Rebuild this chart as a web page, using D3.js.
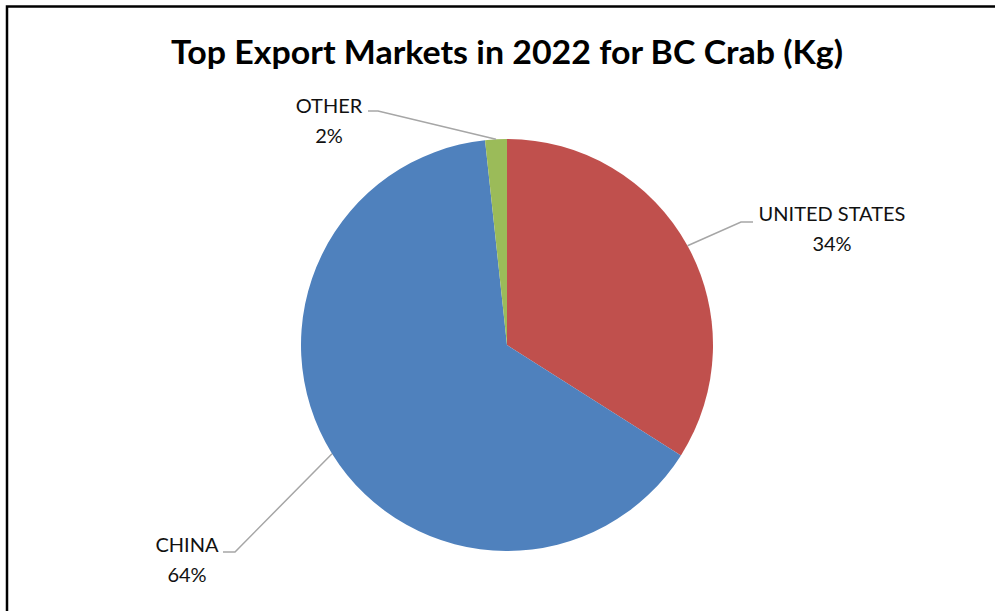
<html>
<head>
<meta charset='UTF-8'>
<script src="https://d3js.org/d3.v7.min.js"></script>
<style>
  body { margin: 0; background: white; }
  .title { font-family: Lato, "Open Sans", sans-serif; font-weight: bold; font-size: 33px; fill: black; }
  .lbl { font-family: Lato, "Open Sans", sans-serif; font-size: 20px; fill: #111; }
  .leader { stroke: #a6a6a6; stroke-width: 1.5px; fill: none; }
</style>
</head>
<body>
<svg id="chart" width="995" height="611"></svg>
<script>
// data
const markets = ['UNITED STATES', 'CHINA', 'OTHER'];
const shares = [34.0, 64.3, 1.7];
const colors = ['#c0504d', '#4f81bd', '#9bbb59'];

// label layout: elbow point and text anchor, relative to pie centre
const labelLayout = {
  'UNITED STATES': { elbow: [234, -123], end: [246, -123], text: [325, -124] },
  'CHINA': { elbow: [-272, 207], end: [-284, 207], text: [-320, 207] },
  'OTHER': { elbow: [-129, -234], end: [-139, -234], text: [-178, -232] }
};

const svg = d3.select('#chart');
const cx = 507, cy = 345, radius = 206;

// frame
svg.append('rect')
   .attr('x', 7).attr('y', 6.5)
   .attr('width', 1100).attr('height', 700)
   .attr('fill', 'none').attr('stroke', 'black').attr('stroke-width', 2.5);

svg.append('text')
   .attr('class', 'title')
   .attr('x', 507).attr('y', 64)
   .attr('text-anchor', 'middle')
   .attr('textLength', 672)
   .attr('lengthAdjust', 'spacingAndGlyphs')
   .text('Top Export Markets in 2022 for BC Crab (Kg)');

const pie = d3.pie().sort(null).value(d => d.v);
const data = markets.map((m, i) => ({ name: m, v: shares[i], color: colors[i] }));
const arcs = pie(data);
const total = d3.sum(shares);

const arc = d3.arc().innerRadius(0).outerRadius(radius);
const g = svg.append('g').attr('transform', 'translate(' + cx + ',' + cy + ')');

g.selectAll('path.slice').data(arcs)
  .join('path')
  .attr('class', 'slice')
  .attr('fill', d => d.data.color)
  .attr('d', arc);

// leader lines from the slice edge at its mid angle
g.selectAll('polyline.leader').data(arcs)
  .join('polyline')
  .attr('class', 'leader')
  .attr('points', d => {
    const a = (d.startAngle + d.endAngle) / 2;
    const p = [radius * Math.sin(a), -radius * Math.cos(a)];
    const L = labelLayout[d.data.name];
    return [p, L.elbow, L.end].map(q => q.join(',')).join(' ');
  });

const lbl = g.selectAll('text.lbl').data(arcs)
  .join('text')
  .attr('class', 'lbl')
  .attr('text-anchor', 'middle')
  .attr('transform', d => 'translate(' + labelLayout[d.data.name].text.join(',') + ')');

lbl.append('tspan').attr('x', 0).attr('y', 0).text(d => d.data.name);
lbl.append('tspan').attr('x', 0).attr('y', 30)
   .text(d => Math.round(d.data.v / total * 100) + '%');
</script>
</body>
</html>
